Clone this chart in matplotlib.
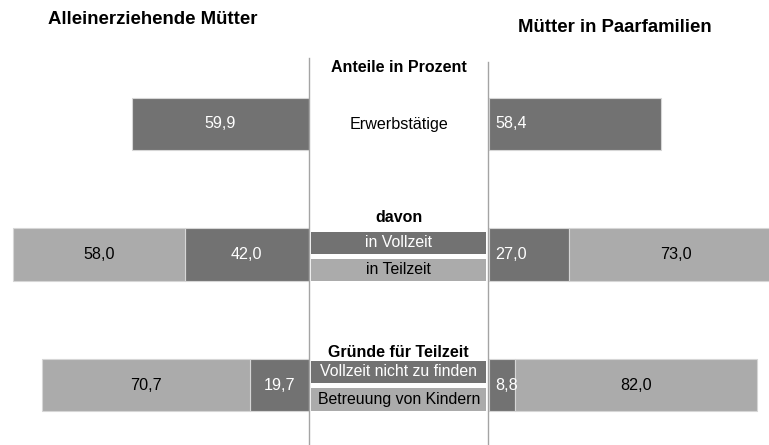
import matplotlib
matplotlib.use("Agg")
import matplotlib.pyplot as plt
from matplotlib.patches import Rectangle

plt.rcParams['font.family'] = ['Liberation Sans', 'DejaVu Sans']

# Data
rows = ["Erwerbstätige", "davon", "Gründe für Teilzeit"]
left_dark = [59.9, 42.0, 19.7]     # Alleinerziehende Mütter
left_light = [None, 58.0, 70.7]
right_dark = [58.4, 27.0, 8.8]     # Mütter in Paarfamilien
right_light = [None, 73.0, 82.0]
left_title = "Alleinerziehende Mütter"
right_title = "Mütter in Paarfamilien"
center_title = "Anteile in Prozent"
box_labels = [[], ["in Vollzeit", "in Teilzeit"], ["Vollzeit nicht zu finden", "Betreuung von Kindern"]]
row_headers = [None, "davon", "Gründe für Teilzeit"]

DARK = "#727272"
LIGHT = "#ababab"
EDGE = "#d6d6d6"

W, H = 769, 445
fig = plt.figure(figsize=(W / 100, H / 100), dpi=100)

px_per_pct = 2.95
row_px = [124, 255, 385]
unit = 130.5
y0 = -row_px[0] / unit
y1 = y0 + H / unit

def fx(px):
    return px / W

left_edge = 308.5
right_edge = 489
axL = fig.add_axes([0, 0, fx(left_edge), 1])
axR = fig.add_axes([fx(right_edge), 0, 1 - fx(right_edge), 1])
axC = fig.add_axes([fx(left_edge), 0, fx(right_edge - left_edge), 1])
axL.set_xlim(left_edge / px_per_pct, 0)
axR.set_xlim(0, (W - right_edge) / px_per_pct)
axC.set_xlim(0, 1)
for ax in (axL, axR, axC):
    ax.set_ylim(y1, y0)
    ax.axis("off")

ypos = [0, 1, 2]
bh = 0.4
fs = 11.6

def fmt(v):
    return f"{v:.1f}".replace(".", ",")

for i, y in enumerate(ypos):
    # left
    axL.barh(y, left_dark[i], height=bh, color=DARK, edgecolor=EDGE, linewidth=0.8)
    axL.text(left_dark[i] / 2, y, fmt(left_dark[i]),
             ha="center", va="center", color="white", fontsize=fs)
    if left_light[i] is not None:
        axL.barh(y, left_light[i], left=left_dark[i], height=bh, color=LIGHT, edgecolor=EDGE, linewidth=0.8)
        axL.text(left_dark[i] + left_light[i] / 2, y, fmt(left_light[i]),
                 ha="center", va="center", color="black", fontsize=fs)
    # right
    axR.barh(y, right_dark[i], height=bh, color=DARK, edgecolor=EDGE, linewidth=0.8)
    axR.text(2.0, y, fmt(right_dark[i]),
             ha="left", va="center", color="white", fontsize=fs)
    if right_light[i] is not None:
        axR.barh(y, right_light[i], left=right_dark[i], height=bh, color=LIGHT, edgecolor=EDGE, linewidth=0.8)
        axR.text(right_dark[i] + right_light[i] / 2, y, fmt(right_light[i]),
                 ha="center", va="center", color="black", fontsize=fs)

# center column
axC.text(0.5, ypos[0], rows[0], ha="center", va="center", fontsize=fs, color="black")
axC.text(0.5, (67 - row_px[0]) / unit, center_title, ha="center", va="center",
         fontsize=11.5, fontweight="bold")
header_off = [0, -37 / unit, -32.5 / unit]
box_off = [[], [-11.7 / unit, 15.3 / unit], [-13.0 / unit, 14.5 / unit]]
box_h = [0, 22 / unit, 22.6 / unit]
for i, y in enumerate(ypos):
    if row_headers[i]:
        axC.text(0.5, y + header_off[i], row_headers[i], ha="center", va="center",
                 fontsize=11.5, fontweight="bold")
    for j, lab in enumerate(box_labels[i]):
        col = DARK if j == 0 else LIGHT
        tcol = "white" if j == 0 else "black"
        cy = y + box_off[i][j]
        axC.add_patch(Rectangle((0.014, cy - box_h[i] / 2), 0.968, box_h[i], facecolor=col,
                                edgecolor="none"))
        axC.text(0.5, cy, lab, ha="center", va="center", fontsize=11.4, color=tcol)

# vertical separator lines
for xp, top in ((308.8, 58), (488.2, 62)):
    fig.add_artist(plt.Line2D([fx(xp), fx(xp)], [0, 1 - top / H], color="#a4a4a4",
                              linewidth=1.0, transform=fig.transFigure))

# titles
fig.text(fx(48), 1 - 20 / H, left_title, ha="left", va="center", fontsize=13.4, fontweight="bold")
fig.text(fx(518), 1 - 27 / H, right_title, ha="left", va="center", fontsize=13.4, fontweight="bold")

fig.savefig("out.png", dpi=100)
